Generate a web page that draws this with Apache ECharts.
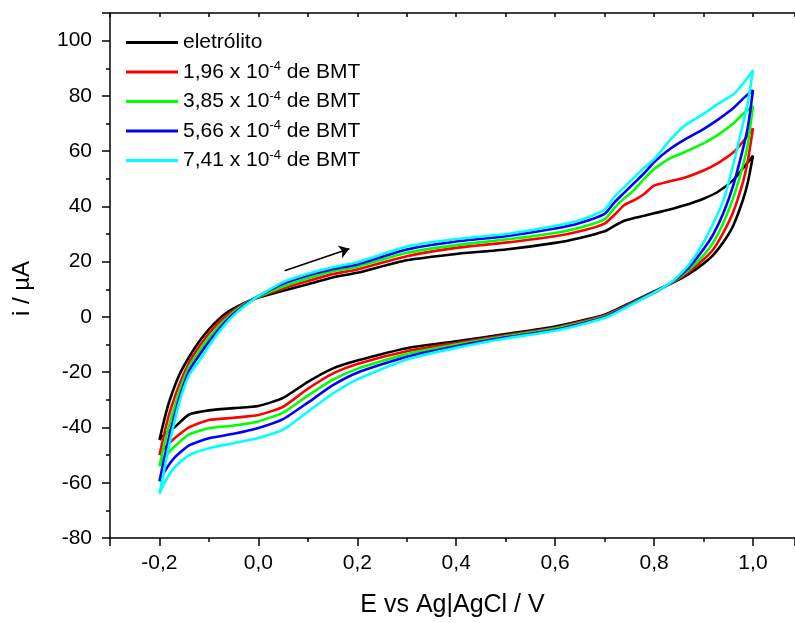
<!DOCTYPE html>
<html>
<head>
<meta charset="utf-8">
<script src="https://cdn.jsdelivr.net/npm/echarts@6.0.0/dist/echarts.min.js"></script>
<style>html,body{margin:0;padding:0;background:#fff}#c{width:795px;height:623px}</style>
</head>
<body>
<div id="c"></div>
<script>
// Potential (V) sampled along the forward scan (-0.2 -> 1.0) and the reverse scan (1.0 -> -0.2)
const potForward = [-0.2, -0.19, -0.18, -0.16, -0.14, -0.12, -0.1, -0.08, -0.06, -0.04, -0.02, 0.0, 0.05, 0.1, 0.15, 0.2, 0.3, 0.4, 0.5, 0.6, 0.65, 0.7, 0.72, 0.74, 0.76, 0.78, 0.8, 0.83, 0.86, 0.9, 0.93, 0.96, 0.98, 1.0];
const potReverse = [0.99, 0.98, 0.96, 0.94, 0.92, 0.9, 0.87, 0.84, 0.8, 0.76, 0.7, 0.6, 0.5, 0.4, 0.3, 0.2, 0.15, 0.1, 0.05, 0.0, -0.05, -0.1, -0.14, -0.17, -0.19, -0.2];

// Current (µA), forward branch
const fwdEletrolito = [-44.5, -37, -30.5, -21, -14.5, -9, -4.5, -0.8, 2, 4, 5.7, 7, 9.5, 11.8, 14.3, 16, 20.5, 22.8, 24.4, 26.8, 28.6, 31, 33, 34.8, 35.8, 36.6, 37.5, 38.8, 40.3, 42.8, 45.4, 49.5, 53.8, 58.3];
const fwdBMT196 = [-50, -42, -35, -24.5, -16.5, -10.8, -6, -2, 1.1, 3.6, 5.6, 7.2, 10.3, 13, 15.5, 17.2, 22, 25, 26.9, 29.2, 31, 33.8, 37, 40.5, 42.3, 44.5, 47.5, 49, 50.3, 53, 55.8, 59.5, 63.5, 68.3];
const fwdBMT385 = [-54, -46, -39, -27, -18, -12.5, -7.5, -3.3, 0.2, 3.1, 5.5, 7.3, 11, 14, 16.5, 18.2, 23.2, 26, 28, 30.4, 32.3, 35.3, 39.5, 43, 46, 50, 53.5, 57.2, 59.5, 62.8, 66, 70, 73.5, 76.3];
const fwdBMT566 = [-59.5, -51, -43, -29.5, -19.5, -14, -9, -4.5, -0.5, 2.6, 5.3, 7.5, 12, 15, 17.3, 19, 24.4, 27.3, 29.2, 32, 34, 37.3, 41.5, 45, 48.5, 52, 56, 60.5, 64, 68, 71.5, 75.5, 79, 82];
const fwdBMT741 = [-64, -55, -46, -31, -21, -16, -10.5, -5.5, -1.2, 2.2, 5, 7.5, 12.6, 15.6, 18, 19.8, 25.5, 28.2, 30, 33, 35, 38.8, 43.5, 47, 50.5, 54, 57, 63.5, 69, 73.5, 77.2, 80.5, 84.5, 89.3];

// Current (µA), reverse branch
const revEletrolito = [49, 42.5, 33, 27, 22.5, 19.3, 15.5, 12.6, 9.2, 5.8, 0.8, -3.5, -6.2, -8.8, -11.3, -15.8, -18.7, -23.5, -29.3, -32.2, -33, -33.8, -35.3, -40, -42.5, -44.5];
const revBMT196 = [57, 49, 38, 30.5, 24.5, 20.8, 16.3, 12.8, 9.0, 5.5, 0.5, -3.9, -6.6, -9.4, -12.4, -17, -20.5, -26, -32.5, -35.5, -36.5, -37.3, -40, -44, -47.5, -50];
const revBMT385 = [63, 55, 43, 34, 27, 22.3, 17, 13, 8.8, 5.3, 0.2, -4.2, -7, -10, -13.4, -18.8, -22.8, -28.5, -34.6, -37.8, -39.3, -40.3, -42.5, -47, -51, -54];
const revBMT566 = [69, 61, 47.5, 37.5, 30, 24.5, 17.8, 13.1, 8.7, 5.2, -0.1, -4.6, -7.4, -10.6, -14.4, -20.2, -24.8, -31, -37, -40.2, -42.3, -43.9, -46.5, -51, -56, -59.5];
const revBMT741 = [78, 70, 55, 42, 34, 27, 18.8, 13.3, 8.7, 5.0, -0.4, -5, -7.8, -11.2, -15.4, -22.6, -27.8, -34.3, -40.8, -43.8, -45.7, -47.5, -50, -54.5, -60, -64];

const seriesNames = ['eletrólito', '1,96 x 10-4 de BMT', '3,85 x 10-4 de BMT', '5,66 x 10-4 de BMT', '7,41 x 10-4 de BMT'];
const concentrations = [null, '1,96', '3,85', '5,66', '7,41'];
const exponent = '-4';
const seriesColors = ['#000000', '#ff0000', '#00ff00', '#0000ff', '#00ffff'];
const forwardSets = [fwdEletrolito, fwdBMT196, fwdBMT385, fwdBMT566, fwdBMT741];
const reverseSets = [revEletrolito, revBMT196, revBMT385, revBMT566, revBMT741];

// scan-direction arrow (data coordinates)
const arrowFrom = [0.053, 16.7];
const arrowTo = [0.184, 24.7];

const xTickMin = -0.3, xTickMax = 1.085;
const yTickMin = -80, yTickMax = 110, yStep = 20;

const font = '"Liberation Sans", Arial, sans-serif';

function buildLoop(fwd, rev) {
  const out = [];
  potForward.forEach((e, i) => out.push([e, fwd[i]]));
  potReverse.forEach((e, i) => out.push([e, rev[i]]));
  return out;
}

const series = seriesNames.map((name, k) => {
  const s = {
    name: name,
    type: 'line',
    data: buildLoop(forwardSets[k], reverseSets[k]),
    symbol: 'none',
    showSymbol: false,
    smooth: 0.2,
    lineStyle: { color: seriesColors[k], width: 2.6 },
    itemStyle: { color: seriesColors[k] },
    z: 2 + k
  };
  if (k === 0) {
    s.markLine = {
      silent: true,
      symbol: ['none', 'arrow'],
      symbolSize: 10,
      label: { show: false },
      lineStyle: { color: '#000', width: 1.6, type: 'solid' },
      data: [[{ coord: arrowFrom }, { coord: arrowTo }]]
    };
  }
  return s;
});

const tickStyle = { color: '#000', width: 1.5 };

const chart = echarts.init(document.getElementById('c'), null, { renderer: 'canvas' });
chart.setOption({
  animation: false,
  backgroundColor: '#fff',
  grid: { left: 110, top: 13, right: 0, bottom: 82, containLabel: false },
  legend: {
    orient: 'vertical',
    left: 121,
    top: 27,
    itemWidth: 52,
    itemHeight: 3,
    itemGap: 7,
    icon: 'rect',
    selectedMode: false,
    data: seriesNames,
    formatter: function (name) {
      const k = seriesNames.indexOf(name);
      if (!concentrations[k]) return '{n|' + name + '}';
      return '{n|' + concentrations[k] + ' x 10}{sup|' + exponent + '}{n| de BMT}';
    },
    textStyle: {
      color: '#000', fontFamily: font, fontSize: 21,
      rich: {
        n: { fontSize: 21, fontFamily: font, color: '#000', lineHeight: 24 },
        sup: { fontSize: 13, fontFamily: font, color: '#000', verticalAlign: 'top', lineHeight: 13 }
      }
    }
  },
  xAxis: [{
    type: 'value', position: 'bottom', min: xTickMin, max: xTickMax, splitNumber: 7,
    axisLine: { show: true, onZero: false, lineStyle: tickStyle },
    axisTick: { show: true, inside: false, length: 8, lineStyle: tickStyle },
    minorTick: { show: true, splitNumber: 2, length: 4, lineStyle: tickStyle },
    splitLine: { show: false },
    axisLabel: {
      showMinLabel: false, showMaxLabel: false, margin: 15,
      color: '#000', fontFamily: font, fontSize: 21,
      formatter: v => v.toFixed(1).replace('.', ',')
    },
    name: 'E vs Ag|AgCl / V', nameLocation: 'middle', nameGap: 55,
    nameTextStyle: { color: '#000', fontFamily: font, fontSize: 25 }
  }, {
    type: 'value', position: 'top', min: xTickMin, max: xTickMax, splitNumber: 7,
    axisLine: { show: true, onZero: false, lineStyle: tickStyle },
    axisTick: { show: true, inside: true, length: 4, lineStyle: tickStyle },
    minorTick: { show: true, splitNumber: 2, length: 4, lineStyle: tickStyle },
    splitLine: { show: false },
    axisLabel: { show: false }
  }],
  yAxis: [{
    type: 'value', position: 'left', min: yTickMin, max: yTickMax, interval: yStep,
    axisLine: { show: true, onZero: false, lineStyle: tickStyle },
    axisTick: { show: true, inside: false, length: 8, lineStyle: tickStyle },
    minorTick: { show: true, splitNumber: 2, length: 4, lineStyle: tickStyle },
    splitLine: { show: false },
    axisLabel: {
      showMaxLabel: false, margin: 18,
      color: '#000', fontFamily: font, fontSize: 21
    },
    name: 'i / µA', nameLocation: 'middle', nameGap: 76,
    nameTextStyle: { color: '#000', fontFamily: font, fontSize: 24, padding: [0, 26, 0, 0] }
  }],
  series: series
});
</script>
</body>
</html>
